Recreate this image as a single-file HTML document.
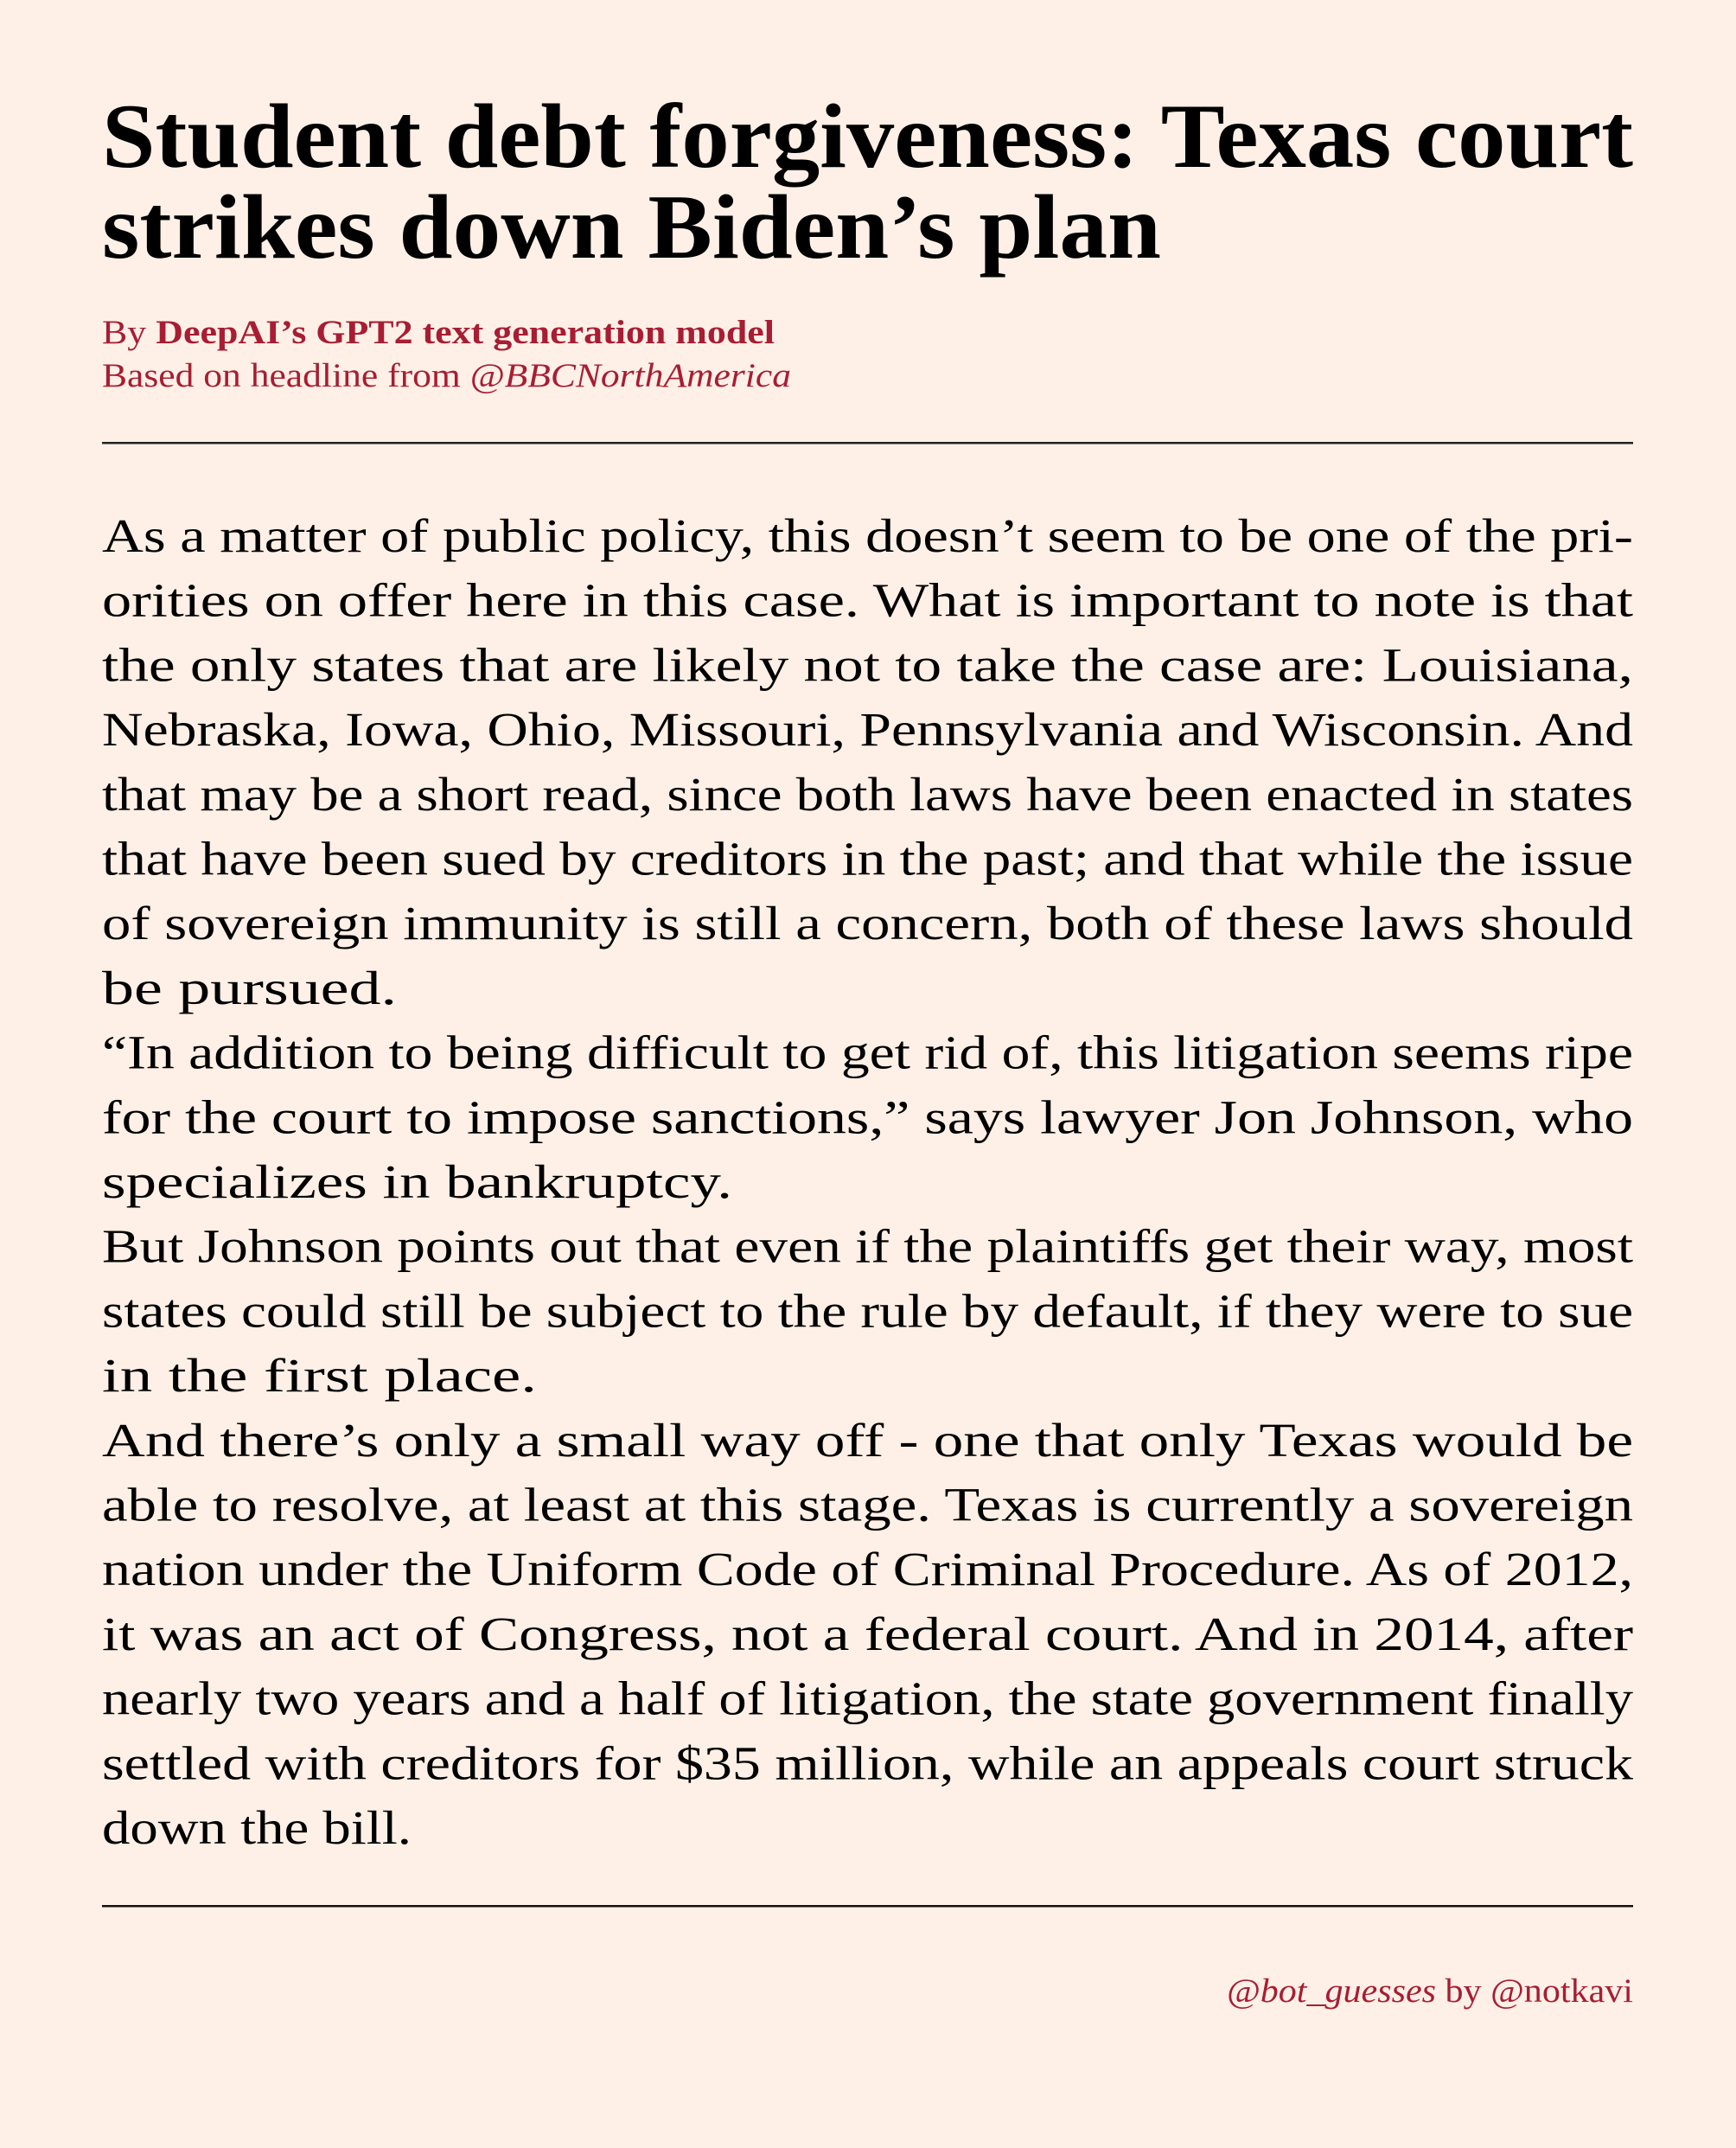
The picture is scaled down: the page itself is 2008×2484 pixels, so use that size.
<!DOCTYPE html>
<html><head><meta charset="utf-8"><style>
html,body{margin:0;padding:0;background:#fef0e6;}
svg{display:block;}
text{font-family:"Liberation Serif",serif;}
</style></head><body>
<svg width="2008" height="2484" viewBox="0 0 2008 2484">
<rect x="0" y="0" width="2008" height="2484" fill="#fef0e6"/>
<g font-weight="bold" font-size="106" fill="#000">
<text x="118" y="193" textLength="1771" lengthAdjust="spacingAndGlyphs">Student debt forgiveness: Texas court</text>
<text x="118" y="298" textLength="1225" lengthAdjust="spacingAndGlyphs">strikes down Biden’s plan</text>
</g>
<g font-size="39" fill="#a81d33">
<text x="118" y="397" textLength="778" lengthAdjust="spacingAndGlyphs">By <tspan font-weight="bold">DeepAI’s GPT2 text generation model</tspan></text>
<text x="118" y="447" textLength="797" lengthAdjust="spacingAndGlyphs">Based on headline from <tspan font-style="italic">@BBCNorthAmerica</tspan></text>
</g>
<rect x="118" y="511" width="1771" height="2.5" fill="#222"/>
<g font-size="55" fill="#000">
<text x="118" y="638" textLength="1771" lengthAdjust="spacingAndGlyphs">As a matter of public policy, this doesn’t seem to be one of the pri-</text>
<text x="118" y="712.7" textLength="1771" lengthAdjust="spacingAndGlyphs">orities on offer here in this case.  What is important to note is that</text>
<text x="118" y="787.4" textLength="1771" lengthAdjust="spacingAndGlyphs">the only states that are likely not to take the case are:  Louisiana,</text>
<text x="118" y="862.1" textLength="1771" lengthAdjust="spacingAndGlyphs">Nebraska, Iowa, Ohio, Missouri, Pennsylvania and Wisconsin.  And</text>
<text x="118" y="936.8" textLength="1771" lengthAdjust="spacingAndGlyphs">that may be a short read, since both laws have been enacted in states</text>
<text x="118" y="1011.5" textLength="1771" lengthAdjust="spacingAndGlyphs">that have been sued by creditors in the past; and that while the issue</text>
<text x="118" y="1086.2" textLength="1771" lengthAdjust="spacingAndGlyphs">of sovereign immunity is still a concern, both of these laws should</text>
<text x="118" y="1160.9" textLength="341" lengthAdjust="spacingAndGlyphs">be pursued.</text>
<text x="118" y="1235.6" textLength="1771" lengthAdjust="spacingAndGlyphs">“In addition to being difficult to get rid of, this litigation seems ripe</text>
<text x="118" y="1310.3" textLength="1771" lengthAdjust="spacingAndGlyphs">for the court to impose sanctions,” says lawyer Jon Johnson, who</text>
<text x="118" y="1385" textLength="729" lengthAdjust="spacingAndGlyphs">specializes in bankruptcy.</text>
<text x="118" y="1459.7" textLength="1771" lengthAdjust="spacingAndGlyphs">But Johnson points out that even if the plaintiffs get their way, most</text>
<text x="118" y="1534.4" textLength="1771" lengthAdjust="spacingAndGlyphs">states could still be subject to the rule by default, if they were to sue</text>
<text x="118" y="1609.1" textLength="503" lengthAdjust="spacingAndGlyphs">in the first place.</text>
<text x="118" y="1683.8" textLength="1771" lengthAdjust="spacingAndGlyphs">And there’s only a small way off - one that only Texas would be</text>
<text x="118" y="1758.5" textLength="1771" lengthAdjust="spacingAndGlyphs">able to resolve, at least at this stage.  Texas is currently a sovereign</text>
<text x="118" y="1833.2" textLength="1771" lengthAdjust="spacingAndGlyphs">nation under the Uniform Code of Criminal Procedure.  As of 2012,</text>
<text x="118" y="1907.9" textLength="1771" lengthAdjust="spacingAndGlyphs">it was an act of Congress, not a federal court.  And in 2014, after</text>
<text x="118" y="1982.6" textLength="1771" lengthAdjust="spacingAndGlyphs">nearly two years and a half of litigation, the state government finally</text>
<text x="118" y="2057.3" textLength="1771" lengthAdjust="spacingAndGlyphs">settled with creditors for $35 million, while an appeals court struck</text>
<text x="118" y="2132" textLength="358" lengthAdjust="spacingAndGlyphs">down the bill.</text>
</g>
<rect x="118" y="2203" width="1771" height="2.5" fill="#111"/>
<text x="1889" y="2315" text-anchor="end" font-size="39" fill="#a81d33" textLength="470" lengthAdjust="spacingAndGlyphs"><tspan font-style="italic">@bot_guesses</tspan> by @notkavi</text>
</svg>
</body></html>
